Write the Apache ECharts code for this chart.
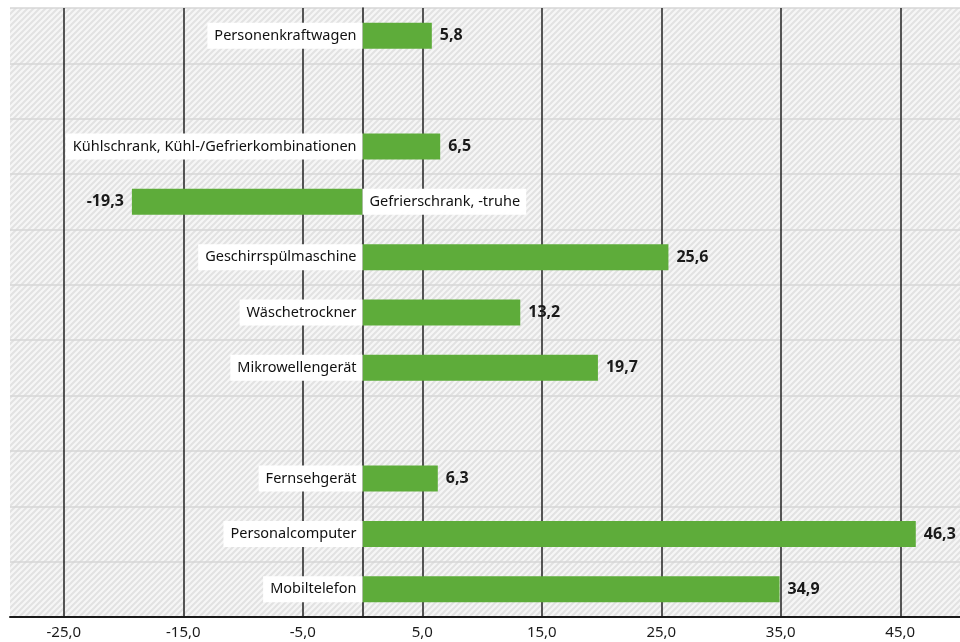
<!DOCTYPE html>
<html>
<head>
<meta charset="utf-8">
<script src="https://cdn.jsdelivr.net/npm/echarts@6/dist/echarts.min.js"></script>
<style>
  html, body { margin: 0; padding: 0; background: #fff; }
  #chart { width: 960px; height: 642px; }
</style>
</head>
<body>
<div id="chart"></div>
<script>
// Kategorien von oben nach unten, leere Zeilen als Abstand
const categories = [
  'Personenkraftwagen',
  ' ',
  'Kühlschrank, Kühl-/Gefrierkombinationen',
  'Gefrierschrank, -truhe',
  'Geschirrspülmaschine',
  'Wäschetrockner',
  'Mikrowellengerät',
  '  ',
  'Fernsehgerät',
  'Personalcomputer',
  'Mobiltelefon'
];
const values = [5.8, null, 6.5, -19.3, 25.6, 13.2, 19.7, null, 6.3, 46.3, 34.9];
const tickValues = [-25, -15, -5, 5, 15, 25, 35, 45];

const fmt = v => v.toFixed(1).replace('.', ',');
const FONT = 'Noto Sans';

// Schraffierter Hintergrund
const hatch = document.createElement('canvas');
hatch.width = 6; hatch.height = 6;
const hc = hatch.getContext('2d');
hc.fillStyle = '#f6f6f6';
hc.fillRect(0, 0, 6, 6);
hc.strokeStyle = '#e2e2e2';
hc.lineWidth = 2;
hc.beginPath();
hc.moveTo(-1, 7); hc.lineTo(7, -1);
hc.moveTo(-4, 4); hc.lineTo(4, -4);
hc.moveTo(2, 10); hc.lineTo(10, 2);
hc.stroke();

const chart = echarts.init(document.getElementById('chart'));

const valueData = values.map(v => v === null ? null : {
  value: v,
  label: { position: v < 0 ? 'left' : 'right' }
});
const nameData = values.map((v, i) => v === null ? null : {
  value: v,
  label: { position: v < 0 ? 'right' : 'left', formatter: categories[i] }
});

chart.setOption({
  animation: false,
  grid: {
    left: 10, right: 0, top: 8, bottom: 25,
    show: true,
    backgroundColor: { image: hatch, repeat: 'repeat' },
    borderWidth: 0
  },
  xAxis: {
    type: 'value',
    min: -29.5,
    max: 50,
    axisLine: { show: true, onZero: false, lineStyle: { color: '#1a1a1a', width: 2 } },
    axisTick: { show: false, customValues: tickValues },
    axisLabel: {
      customValues: tickValues,
      formatter: v => fmt(v),
      fontFamily: FONT, fontSize: 15, color: '#1a1a1a', margin: 8
    },
    splitLine: { show: true, lineStyle: { color: '#222', width: 1.5 } }
  },
  yAxis: {
    type: 'category',
    data: categories,
    inverse: true,
    axisLine: { show: true, onZero: true, lineStyle: { color: '#1a1a1a', width: 1.5 } },
    axisTick: { show: false },
    axisLabel: { show: false },
    splitLine: { show: true, interval: 0, lineStyle: { color: '#d6d6d6', width: 1.5 } }
  },
  series: [
    {
      type: 'bar',
      data: valueData,
      barWidth: 26,
      itemStyle: { color: '#5eac3a' },
      label: {
        show: true,
        distance: 8,
        formatter: p => fmt(p.value),
        fontFamily: FONT, fontSize: 16, fontWeight: 'bold', color: '#1a1a1a'
      }
    },
    {
      type: 'bar',
      data: nameData,
      barWidth: 26,
      barGap: '-100%',
      itemStyle: { color: 'rgba(0,0,0,0)' },
      label: {
        show: true,
        distance: 0,
        backgroundColor: '#fff',
        padding: [5, 6, 5, 7],
        lineHeight: 16,
        fontFamily: FONT, fontSize: 14.5, color: '#111'
      }
    }
  ]
});
</script>
</body>
</html>
